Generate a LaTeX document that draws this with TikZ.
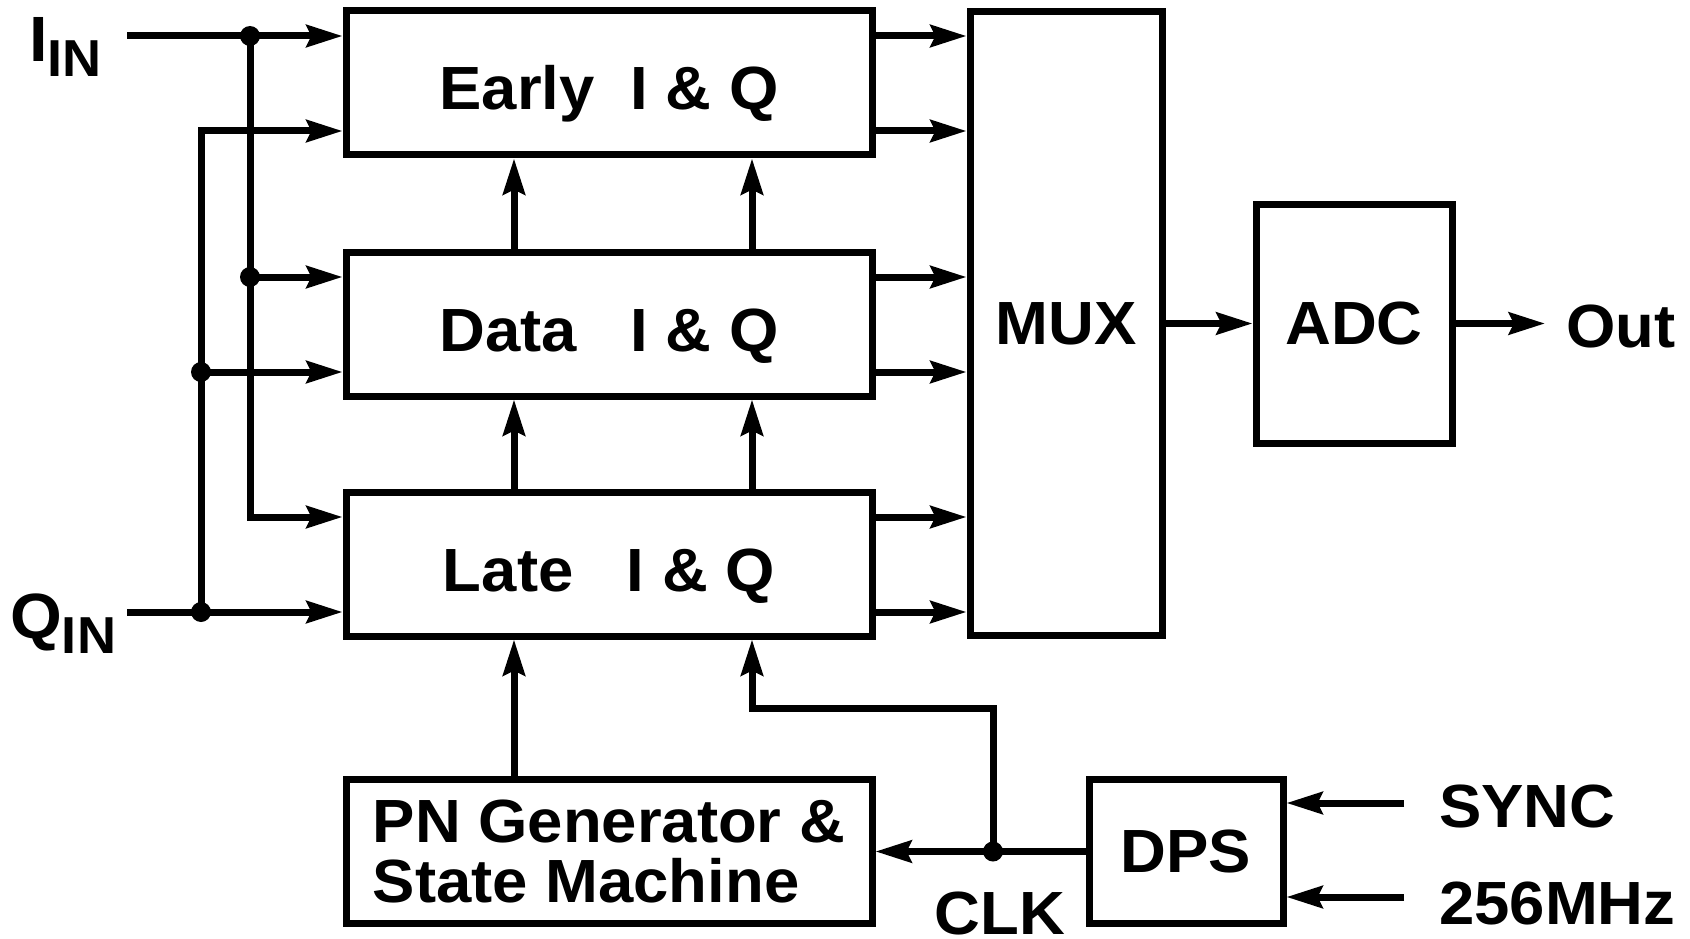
\documentclass[tikz,border=0pt]{standalone}
\usepackage{fontspec}
\setmainfont[FakeStretch=1.04]{Liberation Sans}
\usetikzlibrary{arrows.meta}
\newcommand{\bigfont}{\bfseries\fontsize{61}{60}\selectfont}
\tikzset{
    blk/.style={draw, line width=7pt, inner sep=0pt, font=\bigfont},
    iq/.style={blk, minimum width=526pt, minimum height=144pt, text height=56pt, text depth=2pt},
    arr/.style={line width=7pt, -{Stealth[length=36pt,width=22pt,inset=5pt]}},
    dot/.style={circle, fill, inner sep=0pt, minimum size=20pt},
    lbl/.style={inner sep=0pt, font=\bigfont},
}

\begin{document}
\begin{tikzpicture}[x=1pt, y=-1pt]
    \useasboundingbox (0,0) rectangle (1690,939);
    % blocks
    \node[iq] (early) at (609,83) {\makebox[191pt][l]{Early}I \& Q};
    \node[iq] (data) at (609,324) {\makebox[191pt][l]{Data}I \& Q};
    \node[iq] (late) at (609,564) {\makebox[184pt][l]{Late}I \& Q};
    \node[blk, minimum width=192pt, minimum height=623pt] (mux) at (1066,323.5) {MUX};
    \node[blk, minimum width=196pt, minimum height=239pt] (adc) at (1354,323.5) {ADC};
    \node[blk, minimum width=526pt, minimum height=144pt, align=left] (pn) at (609,851.5) {PN Generator \&\\State Machine};
    \node[blk, minimum width=194pt, minimum height=144pt] (dps) at (1186,851.5) {DPS};
    % labels
    \node[lbl, anchor=base west] (iin) at (29,62) {\fontsize{64}{64}\selectfont I\raisebox{-15pt}{\fontsize{52}{52}\selectfont IN}};
    \node[lbl, anchor=base west] (qin) at (10,638) {\fontsize{64}{64}\selectfont Q\raisebox{-15pt}{\fontsize{52}{52}\selectfont IN}};
    \node[lbl, anchor=west] (out) at (1566,326) {Out};
    \node[lbl, anchor=west] (sync) at (1439,806) {SYNC};
    \node[lbl, anchor=west] (mhz) at (1439,903) {256MHz};
    \node[lbl] (clk) at (1000,913) {CLK};
    % helper coordinates
    \coordinate (inX) at (127,0);
    \coordinate (busI) at (250,0);
    \coordinate (busQ) at (201,0);
    \coordinate (colA) at (514,0);
    \coordinate (colB) at (752,0);
    \coordinate (outE) at (1545,0);
    \coordinate (syncS) at (1404,803);
    \coordinate (mhzS) at (1404,897);
    \coordinate (clkbend) at (993,708);
    % I/Q ports and outputs to the mux
    \foreach \b in {early,data,late}{
        \coordinate (\b-i1) at ([yshift=47pt]\b.west);
        \coordinate (\b-i2) at ([yshift=-48pt]\b.west);
        \coordinate (\b-o1) at ([yshift=47pt]\b.east);
        \coordinate (\b-o2) at ([yshift=-48pt]\b.east);
        \draw[arr] (\b-o1) -- (\b-o1 -| mux.west);
        \draw[arr] (\b-o2) -- (\b-o2 -| mux.west);
    }
    % inputs
    \draw[arr] (inX |- early-i1) -- (early-i1);
    \draw[arr] (inX |- late-i2) -- (late-i2);
    \node[dot] (jI1) at (busI |- early-i1) {};
    \node[dot] (jI2) at (busI |- data-i1) {};
    \node[dot] (jQ1) at (busQ |- late-i2) {};
    \node[dot] (jQ2) at (busQ |- data-i2) {};
    \draw[arr] (jI1.center) |- (late-i1);
    \draw[arr] (jI2.center) -- (data-i1);
    \draw[arr] (jQ1.center) |- (early-i2);
    \draw[arr] (jQ2.center) -- (data-i2);
    % between the blocks
    \foreach \c in {colA,colB}{
        \draw[arr] (data.north -| \c) -- (early.south -| \c);
        \draw[arr] (late.north -| \c) -- (data.south -| \c);
    }
    \draw[arr] (pn.north -| colA) -- (late.south -| colA);
    % clock
    \node[dot] (jclk) at (dps.west -| clkbend) {};
    \draw[arr] (dps.west) -- (pn.east);
    \draw[arr] (jclk.center) -- (clkbend) -| (late.south -| colB);
    \draw[arr] (syncS) -- (syncS -| dps.east);
    \draw[arr] (mhzS) -- (mhzS -| dps.east);
    % output
    \draw[arr] (mux.east) -- (adc.west);
    \draw[arr] (adc.east) -- (adc.east -| outE);
\end{tikzpicture}
\end{document}
